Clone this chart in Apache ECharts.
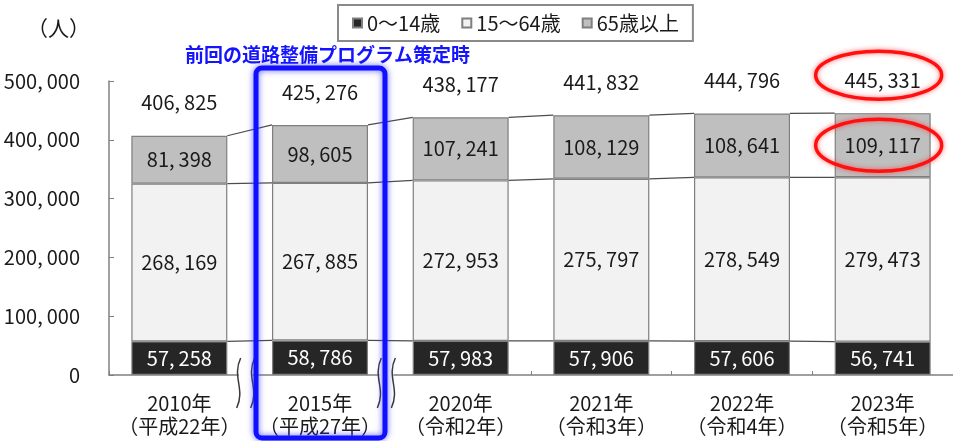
<!DOCTYPE html>
<html>
<head>
<meta charset="utf-8">
<script src="https://cdn.jsdelivr.net/npm/echarts@6/dist/echarts.min.js"></script>
<style>
  html, body { margin: 0; padding: 0; background: #fff; }
  #chart { width: 953px; height: 441px; }
</style>
</head>
<body>
<div id="chart"></div>
<script>
// ── Data ─────────────────────────────────────────────────────────────────────

const years   = ['2010年', '2015年', '2020年', '2021年', '2022年', '2023年'];
const eras    = ['（平成22年）', '（平成27年）', '（令和2年）', '（令和3年）', '（令和4年）', '（令和5年）'];
const age0_14  = [57258, 58786, 57983, 57906, 57606, 56741];
const age15_64 = [268169, 267885, 272953, 275797, 278549, 279473];
const age65    = [81398, 98605, 107241, 108129, 108641, 109117];
const totals   = [406825, 425276, 438177, 441832, 444796, 445331];
const yTicks   = [0, 100000, 200000, 300000, 400000, 500000];

const SERIES_NAMES = ['0～14歳', '15～64歳', '65歳以上'];
const HIGHLIGHT_IDX = 1;   // 2015: previous programme
const CIRCLED_IDX = 5;     // 2023

// ── Helpers ──────────────────────────────────────────────────────────────────

const FONT = '"Noto Sans CJK JP", "Noto Sans", sans-serif';
const BAR_W = 96;
const fmt = v => v.toLocaleString('en-US').replace(/,/g, ',\u2009');

const segStyle = color => ({ color, borderColor: '#7f7f7f', borderWidth: 1.2 });

function ellipsePath(cx, cy, rx, ry) {
  return {
    pathData: `M${cx - rx},${cy} A${rx},${ry} 0 1 0 ${cx + rx},${cy} A${rx},${ry} 0 1 0 ${cx - rx},${cy} Z`,
    x: cx - rx, y: cy - ry, width: rx * 2, height: ry * 2,
  };
}

function breakMark(x, y0, y1) {
  const m = (y0 + y1) / 2;
  return {
    type: 'path',
    shape: { pathData: `M${x + 2},${y0} C${x - 7},${m - 6} ${x + 7},${m + 6} ${x - 2},${y1}`,
             x: x - 4, y: y0, width: 8, height: y1 - y0 },
    style: { fill: null, stroke: '#3a3a3a', lineWidth: 1.5 },
  };
}

// overlay: connectors, totals, axis breaks, highlight frame, red circles
function renderOverlay(params, api) {
  const i = params.dataIndex;
  const kids = [];
  const half = BAR_W / 2;
  const [cx, cyTop] = api.coord([i, totals[i]]);
  const band = api.size([1, 0])[0];
  const [, y0] = api.coord([i, 0]);

  if (i < years.length - 1) {
    const levels = [age0_14[i] , age0_14[i] + age15_64[i], totals[i]];
    const next   = [age0_14[i + 1], age0_14[i + 1] + age15_64[i + 1], totals[i + 1]];
    levels.forEach((lv, k) => {
      const a = api.coord([i, lv]);
      const b = api.coord([i + 1, next[k]]);
      kids.push({ type: 'line', shape: { x1: a[0] + half, y1: a[1], x2: b[0] - half, y2: b[1] },
                  style: { stroke: '#4d4d4d', lineWidth: 1.2 } });
    });
  }

  kids.push({ type: 'text', x: cx, y: cyTop - 33,
              style: { text: fmt(totals[i]), font: `20px ${FONT}`, fill: '#1a1a1a',
                       align: 'center', verticalAlign: 'middle' } });

  if (i < 2) {
    const bx = cx + band / 2;
    kids.push({ type: 'rect', shape: { x: bx - 11, y: y0 - 2, width: 14, height: 4 },
                style: { fill: '#fff' } });
    kids.push(breakMark(bx - 11, y0 - 17, y0 + 33));
    kids.push(breakMark(bx + 3, y0 - 17, y0 + 33));
  }

  if (i === HIGHLIGHT_IDX) {
    const yTop = api.coord([i, yTicks[yTicks.length - 1]])[1];
    kids.push({ type: 'rect', shape: { x: cx - 64, y: yTop - 13, width: 129, height: y0 - yTop + 76, r: 6 },
                style: { fill: null, stroke: '#1010ff', lineWidth: 5,
                         shadowBlur: 6, shadowColor: 'rgba(60,60,255,0.8)' } });
  }

  if (i === CIRCLED_IDX) {
    const y65 = api.coord([i, totals[i] - age65[i] / 2])[1];
    const red = { fill: null, stroke: '#ff1010', lineWidth: 3.5, shadowBlur: 5, shadowColor: 'rgba(255,40,40,0.7)' };
    kids.push({ type: 'path', shape: ellipsePath(cx - 4, cyTop - 38, 63, 24), style: red });
    kids.push({ type: 'path', shape: ellipsePath(cx - 4, y65, 63, 26), style: red });
  }

  return { type: 'group', children: kids };
}

// ── Chart ────────────────────────────────────────────────────────────────────

const chart = echarts.init(document.getElementById('chart'), null, { renderer: 'canvas' });

const barLabel = color => ({
  show: true, position: 'inside', color, fontSize: 20, fontFamily: FONT,
  formatter: p => fmt(p.value),
});

chart.setOption({
  animation: false,
  textStyle: { fontFamily: FONT },
  title: [
    { text: '前回の道路整備プログラム策定時', left: 180, top: 40,
      textStyle: { color: '#1414ff', fontSize: 19, fontWeight: 'bold', fontFamily: FONT } },
    { text: '（人）', left: 22, top: 13,
      textStyle: { color: '#1a1a1a', fontSize: 21, fontWeight: 'normal', fontFamily: FONT } },
  ],
  legend: {
    data: SERIES_NAMES, left: 338, top: 5, icon: 'rect',
    padding: [8, 14], itemGap: 21, itemWidth: 9, itemHeight: 9,
    borderColor: '#8a8a8a', borderWidth: 2, borderRadius: 0,
    selectedMode: false,
    textStyle: { fontSize: 20, color: '#1a1a1a', fontFamily: FONT },
  },
  grid: { left: 109, right: -8, top: 81, bottom: 66, containLabel: false },
  xAxis: {
    type: 'category', data: years,
    axisLine: { lineStyle: { color: '#808080', width: 1.5 } },
    axisTick: { show: true, inside: true, length: 4, lineStyle: { color: '#808080' },
                interval: i => i !== 1 && i !== 2 },
    axisLabel: { interval: 0, margin: 17, fontSize: 20, lineHeight: 23, color: '#1a1a1a',
                 formatter: (v, i) => `${v}\n${eras[i]}` },
  },
  yAxis: {
    type: 'value', min: yTicks[0], max: yTicks[yTicks.length - 1], interval: 100000,
    axisLine: { show: true, lineStyle: { color: '#808080', width: 1.5 } },
    axisTick: { show: true, inside: true, length: 5, lineStyle: { color: '#808080' } },
    splitLine: { show: false },
    axisLabel: { margin: 29, fontSize: 20, color: '#1a1a1a', formatter: v => fmt(v) },
  },
  series: [
    { name: SERIES_NAMES[0], type: 'bar', stack: 'pop', barWidth: BAR_W,
      data: age0_14, itemStyle: segStyle('#262626'), label: barLabel('#ffffff') },
    { name: SERIES_NAMES[1], type: 'bar', stack: 'pop', barWidth: BAR_W,
      data: age15_64, itemStyle: segStyle('#f2f2f2'), label: barLabel('#1a1a1a') },
    { name: SERIES_NAMES[2], type: 'bar', stack: 'pop', barWidth: BAR_W,
      data: age65, itemStyle: segStyle('#bfbfbf'), label: barLabel('#1a1a1a') },
    { type: 'custom', name: 'overlay', z: 5, clip: false,
      data: totals.map((t, i) => [i, t]), encode: { x: 0, y: 1 },
      renderItem: renderOverlay },
  ],
});
</script>
</body>
</html>
